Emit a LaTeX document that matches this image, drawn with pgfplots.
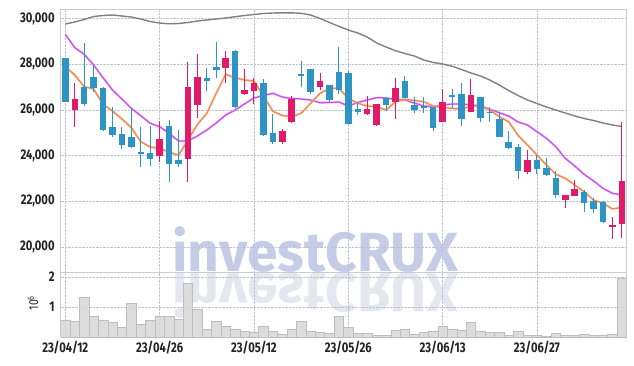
\documentclass[border=0pt]{standalone}
\usepackage{fontspec}
\setmainfont{Fira Sans}[FakeStretch=0.8]
\newfontfamily\wmfont{Fira Sans}
\usepackage{pgfplots}
\usepackage{pgfplotstable}
\pgfplotsset{compat=1.18}
\definecolor{cblue}{RGB}{46,148,198}
\definecolor{cred}{RGB}{226,26,106}
\definecolor{maor}{RGB}{240,136,78}
\definecolor{mapu}{RGB}{198,82,232}
\definecolor{magr}{RGB}{128,128,128}
\definecolor{gridc}{RGB}{190,194,214}
\definecolor{volf}{RGB}{216,216,216}
\definecolor{vold}{RGB}{190,190,190}
\definecolor{wm}{RGB}{198,204,229}
\definecolor{wmr}{RGB}{229,231,239}
\definecolor{tk}{RGB}{35,35,35}

\pgfplotstableread{
i o h l c
1 26010 27160 25240 26480
10 23996 25515 23707 24727
13 23865 28110 22858 26989
14 26201 28460 25646 27440
17 27847 28565 27190 28271
19 26709 27777 26652 26871
20 26841 27410 26245 27177
23 24583 25165 24495 25077
24 25484 26623 25440 26477
27 27002 27602 26858 27265
32 25807 26623 25777 26040
33 25340 26270 25310 26245
35 26332 27383 25590 26944
40 25484 26902 25470 26346
43 25922 27366 25910 26652
49 23296 24232 23182 23808
53 22070 22290 21694 22276
54 22246 22933 22230 22526
58 20890 21329 20351 20963
59 21023 25484 20380 22889
}\upc

\pgfplotstableread{
i o h l c
0 28270 28280 26350 26360
2 27020 28910 26170 26260
3 27440 27965 26780 26960
4 26960 26990 25090 25130
5 25250 26110 24830 24900
6 24946 25266 24290 24478
7 24814 26097 24320 24377
8 24171 25239 23488 24084
9 24114 25309 23558 23865
11 25296 25545 22832 23646
12 23795 25121 23500 23633
15 27410 27847 26827 27252
16 27878 28958 27410 27760
18 28592 28620 26070 26141
21 27177 27339 24858 24902
22 25004 25834 24508 24583
25 27571 28140 26989 27484
26 27804 27804 26683 26797
28 27090 27090 26333 26434
29 27672 28739 26683 26871
30 27615 27703 25380 25397
31 26040 26359 25777 25922
34 26535 26580 25952 26215
36 27250 27497 26508 26535
37 26201 26552 25852 26010
38 26186 26552 25852 26084
39 26114 26130 25077 25208
41 26652 26929 26070 26552
42 26696 27164 25283 25617
44 26565 26580 25484 25662
45 25922 26141 25484 25852
46 25602 25880 24800 24828
47 24596 25077 24276 24348
48 24377 24495 22963 23340
50 23808 24027 23182 23428
51 23458 23882 23094 23152
52 23020 23340 22132 22276
55 22394 22495 21519 21941
56 22014 22130 21475 21664
57 21985 22000 21038 21096
}\downc

\pgfplotstableread{
i ma5 ma20 ma60 vol
0 27891 29308 29759 0.57
1 27528 28723 29847 0.54
2 27016 28433 29956 1.32
3 26915 27965 30088 0.70
4 26245 27410 30131 0.57
5 25952 26871 30153 0.51
6 25602 26477 30109 0.33
7 25221 26070 30066 1.12
8 24609 25747 29978 0.43
9 24377 25414 29869 0.57
10 24320 25266 29803 0.70
11 24158 24975 29768 0.70
12 24013 24640 29781 0.60
13 24683 24640 29825 1.79
14 25362 24858 29891 0.93
15 25852 25121 29934 0.26
16 26727 25427 29978 0.53
17 27557 25777 30022 0.37
18 27410 25996 30079 0.27
19 27309 26260 30131 0.20
20 27265 26522 30175 0.17
21 26608 26630 30219 0.37
22 25939 26727 30241 0.20
23 25755 26565 30249 0.11
24 25703 26500 30249 0.27
25 25852 26478 30228 0.53
26 26289 26434 30153 0.21
27 26727 26316 30000 0.18
28 26946 26324 29825 0.14
29 26946 26346 29659 0.70
30 26508 26171 29497 0.33
31 26289 26324 29365 0.12
32 26171 26434 29190 0.12
33 26141 26535 28928 0.07
34 25996 26522 28753 0.07
35 26359 26456 28591 0.24
36 26464 26434 28468 0.26
37 26412 26302 28359 0.11
38 26359 26171 28184 0.18
39 26171 26141 28075 0.21
40 26097 26215 28009 0.36
41 26070 26259 27913 0.27
42 26027 26259 27768 0.24
43 26171 26215 27615 0.50
44 26171 26185 27484 0.20
45 25996 26027 27309 0.16
46 25703 25878 27090 0.18
47 25484 25734 26849 0.08
48 24880 25470 26630 0.21
49 24464 25340 26434 0.08
50 24027 25047 26281 0.07
51 23589 24757 26127 0.05
52 23182 24390 25996 0.14
53 23006 23882 25865 0.08
54 22714 23545 25734 0.08
55 22421 23182 25624 0.11
56 22057 22889 25537 0.08
57 21912 22570 25427 0.08
58 21664 22350 25340 0.11
59 21737 22276 25274 1.97
}\ma

\pgfplotsset{
  base/.style={
    scale only axis, width=566pt,
    xmin=-0.5, xmax=59.5,
    scaled y ticks=false, scaled x ticks=false,
    axis line style={draw=black!20},
    grid=major,
    major grid style={densely dotted, draw=gridc, line width=0.6pt},
    major tick length=0pt,
    tick style={draw=none},
    xtick={0,10,20,30,40,50},
    tick label style={font=\fontsize{14}{14}\selectfont\bfseries, text=tk},
    yticklabel style={xshift=-2.5pt},
  },
  candle/.style 2 args={draw=none, mark=none, forget plot,
    error bars/.cd, y dir=plus, y explicit, error mark=none,
    error bar style={line width=#1, draw=#2, solid}},
}

\begin{document}
\begin{tikzpicture}
\useasboundingbox (0,0) rectangle (634pt,-366pt);
% watermark
\node[anchor=base west, inner sep=0pt, text=wm] at (172pt,-271pt)
  {\resizebox{286pt}{!}{\wmfont\bfseries investCRUX}};
\node[anchor=base west, inner sep=0pt, text=wmr] at (172pt,-273pt)
  {\scalebox{1}[-1]{\resizebox{286pt}{!}{\wmfont\bfseries investCRUX}}};

\begin{axis}[base,
  at={(60.6pt,-272.3pt)}, anchor=south west,
  height=263.3pt,
  ymin=18894, ymax=30416,
  ytick={20000,22000,24000,26000,28000,30000},
  yticklabels={{20,000},{22,000},{24,000},{26,000},{28,000},{30,000}},
  xticklabels={},
]
\addplot[magr, line width=1.4pt] table[x=i, y=ma60] {\ma};
\addplot[mapu!45, line width=2.6pt, opacity=0.5] table[x=i, y=ma20] {\ma};
\addplot[mapu, line width=1.3pt] table[x=i, y=ma20] {\ma};
\addplot[maor!50, line width=2.6pt, opacity=0.5] table[x=i, y=ma5] {\ma};
\addplot[maor, line width=1.3pt] table[x=i, y=ma5] {\ma};
% wicks
\addplot[candle={1pt}{cblue}]
  table[x=i, y=l, y error expr=\thisrow{h}-\thisrow{l}] {\downc};
\addplot[candle={1pt}{cred}]
  table[x=i, y=l, y error expr=\thisrow{h}-\thisrow{l}] {\upc};
% bodies
\addplot[candle={6.5pt}{cblue}]
  table[x=i, y=c, y error expr=\thisrow{o}-\thisrow{c}] {\downc};
\addplot[candle={6.5pt}{cred}]
  table[x=i, y=o, y error expr=\thisrow{c}-\thisrow{o}] {\upc};
\end{axis}

\begin{axis}[base,
  at={(60.6pt,-337.3pt)}, anchor=south west,
  height=65pt,
  ymin=0, ymax=2.152,
  ytick={1,2}, yticklabels={1,2},
  xticklabels={23/04/12,23/04/26,23/05/12,23/05/26,23/06/13,23/06/27},
]
\addplot[ybar, bar width=9.43pt, fill=volf, fill opacity=0.9, draw=vold, line width=0.5pt] table[x=i, y=vol] {\ma};
\end{axis}

\node[rotate=90, font=\fontsize{13}{13}\selectfont, text=tk] at (33pt,-303pt) {10\textsuperscript{6}};
\end{tikzpicture}
\end{document}
